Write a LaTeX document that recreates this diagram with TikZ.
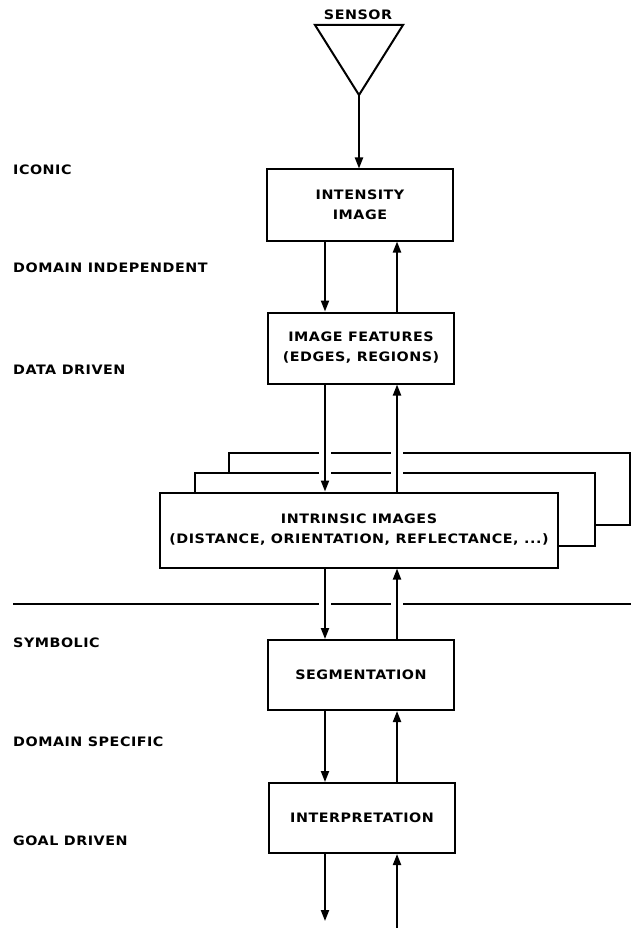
\documentclass[tikz,border=0pt]{standalone}
\usepackage{fontspec}
\usepackage{tikz}
\usetikzlibrary{shapes, arrows.meta, positioning, calc}
\newfontfamily\diagfont{DejaVu Sans}[FakeStretch=1.1, LetterSpace=4]
\newcommand{\lw}{2pt}

\begin{document}
\begin{tikzpicture}[x=1pt, y=-1pt,
  every node/.style={font=\diagfont\bfseries\fontsize{13}{20}\selectfont, inner sep=0pt},
  box/.style={draw, line width=\lw, minimum width=186pt, minimum height=71pt, align=center},
  arr/.style={line width=\lw, -{Triangle[length=11pt, width=8pt]}},
  gap/.style={preaction={draw=white, line width=12pt, -, shorten <=4pt, shorten >=4pt}},
  lbl/.style={anchor=west},
  rule/.style={line width=\lw}]
\useasboundingbox (0,0) rectangle (631,928);

% x positions of the two arrow columns
\coordinate (dn) at (325,0);
\coordinate (up) at (397,0);

% sensor
\coordinate (sensor) at (359,95);
\draw[rule] (315,25) -- (403,25) -- (sensor) -- cycle;
\node (sensorlbl) at (358,15) {SENSOR};

% processing stages
\node[box] (intensity) at (360,205) {INTENSITY\\IMAGE};
\node[box] (features) at (361,348) {IMAGE FEATURES\\(EDGES, REGIONS)};
\node[box, minimum width=398pt, minimum height=75pt] (intrinsic) at (359,530)
  {INTRINSIC IMAGES\\(DISTANCE, ORIENTATION, REFLECTANCE, ...)};
\node[box, minimum height=70pt] (segment) at (361,675) {SEGMENTATION};
\node[box, minimum height=70pt] (interp) at (362,818) {INTERPRETATION};

% stacked layers behind the intrinsic images
\draw[rule] (195,492) |- (595,473) |- (558,546);
\draw[rule] (229,473) |- (630,453) |- (595,525);

% iconic / symbolic divide
\draw[rule] (13,604) -- (631,604);

% level labels
\node[lbl] (iconic) at (13,170) {ICONIC};
\node[lbl] (domind) at (13,268) {DOMAIN INDEPENDENT};
\node[lbl] (datadr) at (13,370) {DATA DRIVEN};
\node[lbl] (symbolic) at (13,643) {SYMBOLIC};
\node[lbl] (domspec) at (13,742) {DOMAIN SPECIFIC};
\node[lbl] (goaldr) at (13,841) {GOAL DRIVEN};

% arrows
\draw[arr] (sensor) -- (intensity.north -| sensor);
\draw[arr] (intensity.south -| dn) -- (features.north -| dn);
\draw[arr] (features.north -| up) -- (intensity.south -| up);
\draw[arr, gap] (features.south -| dn) -- (intrinsic.north -| dn);
\draw[arr, gap] (intrinsic.north -| up) -- (features.south -| up);
\draw[arr, gap] (intrinsic.south -| dn) -- (segment.north -| dn);
\draw[arr, gap] (segment.north -| up) -- (intrinsic.south -| up);
\draw[arr] (segment.south -| dn) -- (interp.north -| dn);
\draw[arr] (interp.north -| up) -- (segment.south -| up);
\coordinate (outdn) at (325,921);
\coordinate (inup) at (397,928);
\draw[arr] (interp.south -| dn) -- (outdn);
\draw[arr] (inup) -- (interp.south -| up);
\end{tikzpicture}
\end{document}
